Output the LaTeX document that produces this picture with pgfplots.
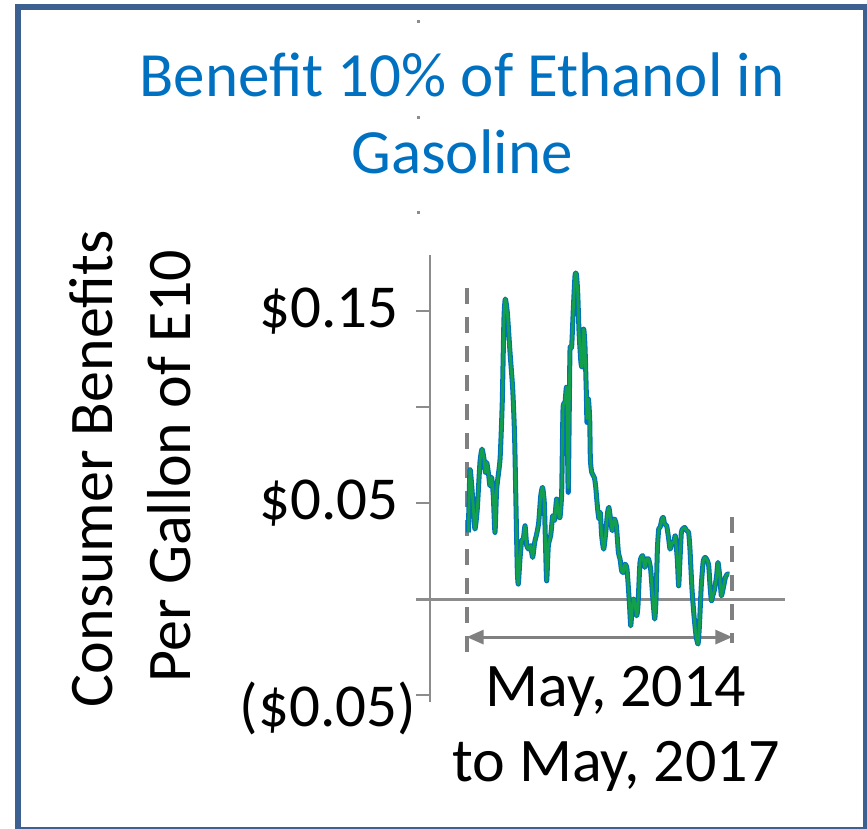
\documentclass[border=0pt]{standalone}
\usepackage{fontspec}
\setmainfont{Carlito}
\usepackage{pgfplots}
\pgfplotsset{compat=1.18}
\usepackage{pgfplotstable}
\usetikzlibrary{arrows.meta}

\definecolor{framecol}{HTML}{3C6191}
\definecolor{titleblue}{HTML}{0070C0}
\definecolor{serblue}{HTML}{0070C0}
\definecolor{sergreen}{HTML}{12A04C}
\definecolor{axgray}{HTML}{8C8C8C}
\definecolor{markgray}{HTML}{808080}

% weekly consumer benefit per gallon of E10 (dollars), weeks since May 2014
\pgfplotstableread{
t      blue     green
0      0.0347   0.0347
1.0    0.0674   0.0674
2.6    0.0521   0.0521
3.9    0.0365   0.0365
5.3    0.0469   0.0469
6.9    0.0712   0.0712
8.1    0.0781   0.0781
9.3    0.0729   0.0729
10.1   0.0660   0.0660
10.9   0.0712   0.0712
12.1   0.0642   0.0642
12.8   0.0590   0.0590
13.8   0.0634   0.0634
14.8   0.0538   0.0538
15.8   0.0347   0.0347
16.8   0.0573   0.0573
18.8   0.0729   0.0729
20.1   0.1024   0.1024
21.1   0.1458   0.1458
21.9   0.1563   0.1563
23.1   0.1493   0.1493
24.7   0.1285   0.1285
26.3   0.1094   0.1094
27.4   0.0851   0.0851
28.2   0.0503   0.0503
29.0   0.0156   0.0156
29.6   0.0078   0.0078
30.6   0.0208   0.0208
31.6   0.0304   0.0304
32.6   0.0313   0.0313
33.6   0.0382   0.0382
34.6   0.0278   0.0278
35.9   0.0260   0.0260
36.9   0.0278   0.0278
38.1   0.0217   0.0217
39.3   0.0295   0.0295
40.5   0.0339   0.0339
41.7   0.0399   0.0399
42.9   0.0538   0.0538
44.0   0.0582   0.0582
45.0   0.0503   0.0503
45.6   0.0330   0.0330
46.4   0.0095   0.0095
47.4   0.0278   0.0278
48.8   0.0330   0.0330
50.0   0.0434   0.0434
51.1   0.0410   0.0410
52.3   0.0521   0.0521
53.3   0.0451   0.0451
54.3   0.0425   0.0425
55.3   0.0556   0.0556
56.1   0.0990   0.0990
57.3   0.1024   0.1024
58.3   0.1094   0.1094
59.2   0.0556   0.0580
60.2   0.1285   0.1285
61.2   0.1311   0.1311
62.2   0.1510   0.1510
63.2   0.1684   0.1684
64.0   0.1693   0.1693
64.8   0.1597   0.1597
65.6   0.1389   0.1389
66.7   0.1233   0.1233
67.5   0.1215   0.1215
68.3   0.1406   0.1406
69.1   0.1319   0.1319
69.9   0.1076   0.1076
70.3   0.0920   0.0940
71.1   0.1042   0.1042
71.9   0.0938   0.0938
72.3   0.0729   0.0729
73.1   0.0660   0.0660
74.6   0.0634   0.0634
75.4   0.0590   0.0590
76.6   0.0469   0.0469
77.4   0.0417   0.0417
78.2   0.0451   0.0451
79.0   0.0330   0.0330
80.2   0.0260   0.0260
81.4   0.0347   0.0347
82.5   0.0451   0.0451
83.3   0.0477   0.0477
84.5   0.0399   0.0399
85.3   0.0356   0.0356
86.5   0.0417   0.0417
87.7   0.0382   0.0382
88.9   0.0243   0.0243
89.9   0.0208   0.0208
90.8   0.0148   0.0148
91.8   0.0139   0.0139
92.8   0.0182   0.0182
94.0   0.0156   0.0156
95.4   -0.0017  -0.0017
96.2   -0.0139  -0.0139
97.0   -0.0052  -0.0052
97.8   0.0000   0.0000
98.5   -0.0009  -0.0009
99.7   -0.0087  -0.0087
100.5  -0.0035  -0.0035
101.7  0.0191   0.0191
103.3  0.0226   0.0226
104.5  0.0165   0.0165
105.7  0.0208   0.0208
106.8  0.0208   0.0208
108.0  0.0156   0.0156
109.2  0.0017   0.0017
110.4  -0.0104  -0.0104
111.2  0.0000   0.0000
112.0  0.0260   0.0260
112.8  0.0365   0.0365
113.6  0.0373   0.0373
114.7  0.0417   0.0417
115.5  0.0425   0.0425
116.3  0.0391   0.0391
117.5  0.0382   0.0382
118.7  0.0313   0.0313
119.5  0.0260   0.0260
120.7  0.0295   0.0295
121.8  0.0295   0.0295
122.6  0.0330   0.0330
123.8  0.0208   0.0208
124.6  0.0069   0.0069
125.4  0.0208   0.0208
126.2  0.0347   0.0347
127.0  0.0365   0.0365
128.2  0.0373   0.0373
129.3  0.0356   0.0356
130.5  0.0347   0.0347
131.3  0.0260   0.0260
132.5  0.0052   0.0052
133.7  -0.0087  -0.0087
134.9  -0.0191  -0.0191
136.1  -0.0234  -0.0234
136.9  -0.0139  -0.0139
138.0  0.0069   0.0069
139.2  0.0200   0.0200
140.4  0.0217   0.0217
141.6  0.0200   0.0200
142.4  0.0174   0.0174
143.2  0.0069   0.0069
144.0  -0.0009  -0.0009
144.8  0.0017   0.0017
145.9  0.0052   0.0052
147.1  0.0122   0.0122
147.9  0.0191   0.0191
149.1  0.0104   0.0104
149.9  0.0017   0.0017
151.1  0.0061   0.0061
152.3  0.0113   0.0113
153.4  0.0130   0.0130
154.6  0.0130   0.0130
}\benefit

\begin{document}
\begin{tikzpicture}
\begin{scope}[x=1pt,y=1pt]
\path[use as bounding box] (0,0) rectangle (867,829);
% outer frame
\draw[line width=6pt, framecol] (18,-1) rectangle (866,822);
% small handle dots
\fill[axgray] (416.5,805.5) rectangle ++(3,3);
\fill[axgray] (416.5,709.5) rectangle ++(3,3);
\fill[axgray] (416.5,614.5) rectangle ++(3,3);
% title
\node[anchor=base, text=titleblue, font=\fontsize{63}{76}\selectfont] at (462,829-97) {Benefit 10\% of Ethanol in};
\node[anchor=base, text=titleblue, font=\fontsize{63}{76}\selectfont] at (462,829-174) {Gasoline};
% vertical axis title
\node[anchor=base, rotate=90, font=\fontsize{62}{76}\selectfont] at (112,829-469) {Consumer Benefits};
\node[anchor=base, rotate=90, font=\fontsize{62}{76}\selectfont] at (190,829-466) {Per Gallon of E10};
% period label
\node[anchor=base, font=\fontsize{62}{76}\selectfont] at (616,829-707) {May, 2014};
\node[anchor=base, font=\fontsize{62}{76}\selectfont] at (616,829-782) {to May, 2017};
\end{scope}

\begin{axis}[
  at={(430pt,127pt)}, anchor=south west,
  scale only axis, width=355pt, height=447pt,
  xmin=-22.7, xmax=187.6, ymin=-0.0536, ymax=0.1792,
  axis x line=none, axis y line*=left,
  y axis line style={draw=axgray, line width=2pt},
  xtick=\empty,
  ytick={-0.05,0,0.05,0.1,0.15},
  yticklabels={\raisebox{-31pt}[0pt][0pt]{(\$0.05)},{},\$0.05\rule{17pt}{0pt},{},\$0.15\rule{17pt}{0pt}},
  tick align=outside, major tick length=14pt,
  ytick style={draw=axgray, line width=2pt},
  yticklabel style={font=\fontsize{61}{73}\selectfont, inner sep=0pt, anchor=east},
  clip=false,
]
% zero line
\draw[axgray, line width=3pt] (axis cs:-22.7,0) -- ++(-14pt,0pt);
\draw[axgray, line width=3pt] (axis cs:-22.7,0) -- (axis cs:187.6,0);
% period markers
\draw[markgray, line width=4pt, dash pattern=on 16pt off 13pt] (axis cs:-1,0.162) -- (axis cs:-1,-0.0281);
\draw[markgray, line width=4pt, dash pattern=on 16pt off 13pt] (axis cs:156.4,0.0427) -- (axis cs:156.4,-0.0229);
\draw[markgray, line width=3pt, {Triangle[length=17pt,width=14pt]}-{Triangle[length=17pt,width=14pt]}] (axis cs:-1,-0.0198) -- (axis cs:156.4,-0.0198);
% series
\addplot[serblue, line width=5pt, line join=round, smooth, tension=0.35, no markers] table[x=t, y=blue] {\benefit};
\addplot[sergreen, line width=2.8pt, line join=round, smooth, tension=0.35, no markers] table[x=t, y=green] {\benefit};
\end{axis}
\end{tikzpicture}
\end{document}
